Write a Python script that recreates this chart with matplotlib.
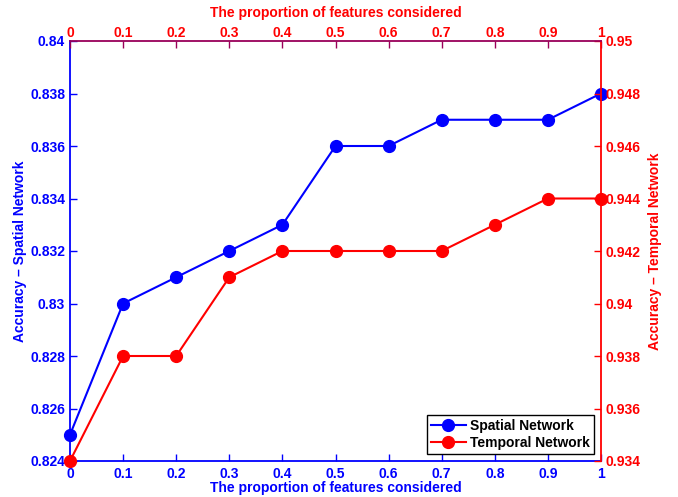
import numpy as np
import matplotlib
matplotlib.use("Agg")
import matplotlib.pyplot as plt

plt.rcParams['font.family'] = ['Liberation Sans', 'DejaVu Sans']
plt.rcParams['font.weight'] = 'bold'

# data
proportion = [0, 0.1, 0.2, 0.3, 0.4, 0.5, 0.6, 0.7, 0.8, 0.9, 1.0]
spatial_acc = [0.825, 0.830, 0.831, 0.832, 0.833, 0.836, 0.836, 0.837, 0.837, 0.837, 0.838]
temporal_acc = [0.934, 0.938, 0.938, 0.941, 0.942, 0.942, 0.942, 0.942, 0.943, 0.944, 0.944]

x_ticks = [0, 0.1, 0.2, 0.3, 0.4, 0.5, 0.6, 0.7, 0.8, 0.9, 1]
x_ticklabels = ['0', '0.1', '0.2', '0.3', '0.4', '0.5', '0.6', '0.7', '0.8', '0.9', '1']
left_ticks = [0.824, 0.826, 0.828, 0.830, 0.832, 0.834, 0.836, 0.838, 0.840]
left_labels = ['0.824', '0.826', '0.828', '0.83', '0.832', '0.834', '0.836', '0.838', '0.84']
right_ticks = [0.934, 0.936, 0.938, 0.940, 0.942, 0.944, 0.946, 0.948, 0.950]
right_labels = ['0.934', '0.936', '0.938', '0.94', '0.942', '0.944', '0.946', '0.948', '0.95']

blue = (0, 0, 1)
red = (1, 0, 0)
purple = (0.6, 0.0, 0.35)
fs = 10

fig = plt.figure(figsize=(6.78, 4.97), dpi=100)
pos = [70 / 678, 36 / 497, 531 / 678, 420 / 497]

ax1 = fig.add_axes(pos)
ax2 = fig.add_axes(pos)
ax2.patch.set_visible(False)

# spatial network (left / bottom)
l1, = ax1.plot(proportion, spatial_acc, '-o', color=blue, lw=1.5, ms=8.5,
               clip_on=False, zorder=3, label='Spatial Network')
ax1.set_xlim(0, 1)
ax1.set_ylim(0.824, 0.840)
ax1.set_xticks(x_ticks)
ax1.set_xticklabels(x_ticklabels)
ax1.set_yticks(left_ticks)
ax1.set_yticklabels(left_labels)
ax1.tick_params(direction='in', length=5, width=1, colors=blue, labelsize=fs,
                top=False, right=False)
ax1.tick_params(axis='y', pad=3.5)
ax1.tick_params(axis='x', pad=4.5)
ax1.set_xlabel('The proportion of features considered', color=blue,
               fontsize=fs, fontweight='bold', labelpad=0)
ax1.set_ylabel('Accuracy \u2013 Spatial Network', color=blue,
               fontsize=fs, fontweight='bold', labelpad=2)
for s in ['left', 'bottom']:
    ax1.spines[s].set_color(blue)
    ax1.spines[s].set_linewidth(1.3)
ax1.spines['top'].set_visible(False)
ax1.spines['right'].set_visible(False)

# temporal network (right / top)
l2, = ax2.plot(proportion, temporal_acc, '-o', color=red, lw=1.5, ms=8.5,
               clip_on=False, zorder=3, label='Temporal Network')
ax2.set_xlim(0, 1)
ax2.set_ylim(0.934, 0.950)
ax2.xaxis.tick_top()
ax2.xaxis.set_label_position('top')
ax2.yaxis.tick_right()
ax2.yaxis.set_label_position('right')
ax2.set_xticks(x_ticks)
ax2.set_xticklabels(x_ticklabels)
ax2.set_yticks(right_ticks)
ax2.set_yticklabels(right_labels)
ax2.tick_params(direction='in', length=5, width=1, colors=red, labelsize=fs, pad=3)
ax2.tick_params(axis='x', colors=purple, labelcolor=red, pad=0.5)
ax2.set_xlabel('The proportion of features considered', color=red,
               fontsize=fs, fontweight='bold', labelpad=7)
ax2.set_ylabel('Accuracy \u2013 Temporal Network', color=red,
               fontsize=fs, fontweight='bold', labelpad=6)
ax2.spines['left'].set_visible(False)
ax2.spines['bottom'].set_visible(False)
ax2.spines['right'].set_color(red)
ax2.spines['right'].set_linewidth(1.3)
ax2.spines['top'].set_color(purple)
ax2.spines['top'].set_linewidth(1.3)

leg = ax2.legend(handles=[l1, l2], loc='lower right', fontsize=fs,
                 fancybox=False, framealpha=1, edgecolor='black',
                 borderpad=0.3, labelspacing=0.2, handlelength=2.5,
                 handletextpad=0.3, borderaxespad=0.5)
leg.get_frame().set_linewidth(1.0)

fig.savefig('out.png', dpi=100)
